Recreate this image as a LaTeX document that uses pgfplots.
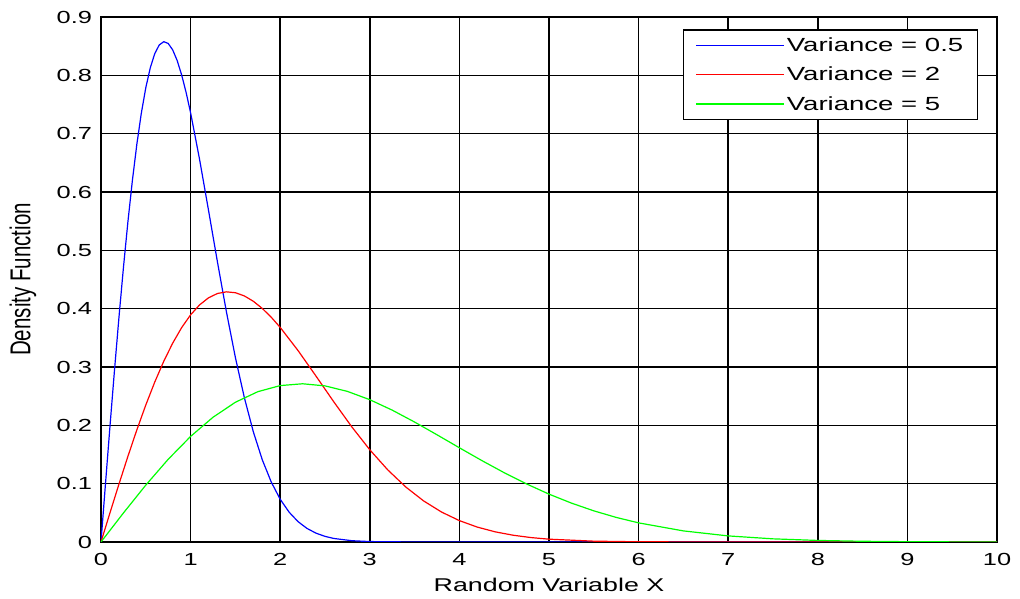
\documentclass[border=0pt]{standalone}
\usepackage{pgfplots}
\pgfplotsset{compat=1.18}
\usepackage{fontspec}
\setmainfont{Liberation Sans}[FakeStretch=1.45]
\newfontfamily\plainsans{Liberation Sans}
\begin{document}
\begin{tikzpicture}
\begin{axis}[
  scale only axis, width=896pt, height=525pt,
  xmin=0, xmax=10, ymin=0, ymax=0.9,
  xtick={0,1,...,10}, ytick={0,0.1,...,0.9},
  grid=major, major grid style={black, line width=1.5pt},
  axis line style={black, line width=1.5pt},
  major tick length=0pt,
  tick label style={font=\fontsize{17.5}{20}\selectfont},
  /pgf/number format/assume math mode=true,
  yticklabel style={/pgf/number format/fixed, /pgf/number format/precision=1, xshift=-5.5pt},
  xticklabel style={yshift=-8pt},
  xlabel={Random Variable X},
  ylabel={\scalebox{1}[1.4]{\plainsans\fontsize{20.5}{22}\selectfont Density Function}},
  xlabel style={font=\fontsize{18.5}{20}\selectfont, at={(axis description cs:0.5,-0.0819)}, anchor=center},
  ylabel style={at={(axis description cs:-0.0871,0.5)}, anchor=center},
  legend style={at={(axis description cs:0.9788,0.977)}, anchor=north east,
    draw=black, line width=1.5pt, font=\fontsize{19}{21}\selectfont,
    inner xsep=12pt, inner ysep=6pt, row sep=10pt, cells={anchor=west}},
  legend image code/.code={\draw[#1, line width=1.3pt] (0pt,0pt) -- (85pt,0pt); \path (0pt,0pt) -- (88pt,0pt);},
]
\addplot[blue, line width=1.2pt] coordinates {
(0,0) (0.05,0.09975) (0.1,0.19801) (0.15,0.29332) (0.2,0.38432) (0.25,0.46970)
(0.3,0.54836) (0.35,0.61930) (0.4,0.68171) (0.45,0.73502) (0.5,0.77880)
(0.55,0.81287) (0.6,0.83721) (0.65,0.85203) (0.7,0.85768) (0.75,0.85467)
(0.8,0.84366) (0.85,0.82542) (0.9,0.80074) (0.95,0.77062) (1.0,0.73576)
(1.1,0.65605) (1.2,0.56863) (1.3,0.47975) (1.4,0.39441) (1.5,0.31620)
(1.6,0.24738) (1.7,0.18896) (1.8,0.14099) (1.9,0.10280) (2.0,0.073263)
(2.1,0.051051) (2.2,0.034791) (2.3,0.023192) (2.4,0.015125) (2.5,0.0096525)
(2.6,0.0060278) (2.8,0.0022046) (3.0,0.00074046) (3.5,0.000034) (4,0)
(5,0) (6,0) (7,0) (8,0) (9,0) (10,0)
};
\addlegendentry{Variance = 0.5}
\addplot[red, line width=1.2pt] coordinates {
(0,0) (0.1,0.049875) (0.2,0.099005) (0.3,0.14666) (0.4,0.19216) (0.5,0.23485)
(0.6,0.27418) (0.7,0.30965) (0.8,0.34086) (0.9,0.36751) (1.0,0.38940)
(1.1,0.40643) (1.2,0.41861) (1.3,0.42602) (1.4,0.42884) (1.5,0.42734)
(1.6,0.42183) (1.7,0.41271) (1.8,0.40037) (1.9,0.38531) (2.0,0.36788)
(2.2,0.32802) (2.4,0.28432) (2.6,0.23988) (2.8,0.19720) (3.0,0.15810)
(3.2,0.12369) (3.4,0.094479) (3.6,0.070495) (3.8,0.051399) (4.0,0.036631)
(4.2,0.025526) (4.4,0.017396) (4.6,0.011596) (4.8,0.0075626) (5.0,0.0048263)
(5.5,0.0014288) (6.0,0.00037023) (7.0,0.0000167) (8,0) (9,0) (10,0)
};
\addlegendentry{Variance = 2}
\addplot[green, line width=1.2pt] coordinates {
(0,0) (0.25,0.049688) (0.5,0.097531) (0.75,0.14180) (1.0,0.18097)
(1.25,0.21384) (1.5,0.23956) (1.75,0.25766) (2.0,0.26813) (2.25,0.27124)
(2.5,0.26763) (2.75,0.25818) (3.0,0.24394) (3.25,0.22605) (3.5,0.20563)
(3.75,0.18380) (4.0,0.16152) (4.25,0.13964) (4.5,0.11879) (4.75,0.099503)
(5.0,0.082085) (5.25,0.066712) (5.5,0.053409) (5.75,0.042151) (6.0,0.032789)
(6.5,0.019016) (7.0,0.010425) (7.5,0.00541) (8.0,0.0026586) (8.5,0.0012379)
(9.0,0.00054637) (9.5,0.00022868) (10,0.0000908)
};
\addlegendentry{Variance = 5}
\end{axis}
\path (current axis.south west) ++(-101pt,-57pt) rectangle ([xshift=23pt,yshift=17pt]current axis.north east);
\end{tikzpicture}
\end{document}
